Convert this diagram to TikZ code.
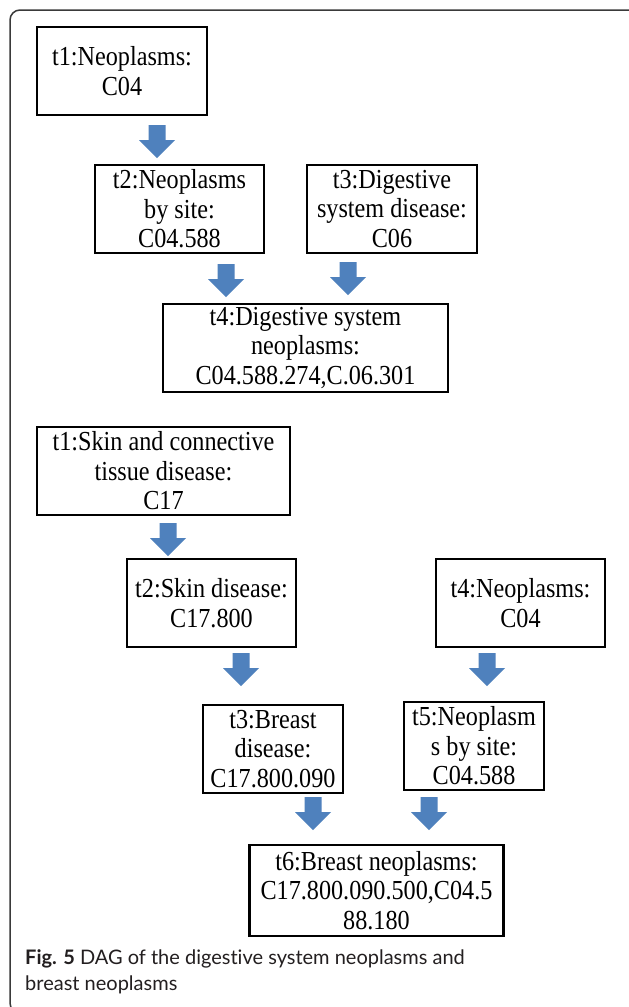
\documentclass[tikz,border=0pt]{standalone}
\usepackage{fontspec}
\setmainfont{Liberation Serif}
\newfontfamily\boxfont[FakeStretch=0.88]{Liberation Serif}
\newfontfamily\capfont[Ligatures={NoCommon}]{Lato}
\definecolor{arrowblue}{HTML}{4F81BD}
\definecolor{frameline}{HTML}{3A3A3A}
\definecolor{captext}{HTML}{231F20}
\begin{document}
\begin{tikzpicture}[x=1pt,y=-1pt,
  box/.style={draw=black, line width=2.6pt, rectangle, inner sep=0pt, align=center,
    font=\boxfont\fontsize{27.5}{29.5}\selectfont},
  barrow/.pic={\fill[arrowblue] (-8.5,0) -- (8.5,0) -- (8.5,15) -- (18,15) -- (0,33) -- (-18,15) -- (-8.5,15) -- cycle;}
  ]
\useasboundingbox (0,0) rectangle (629,1007);
\fill[white] (0,0) rectangle (629,1007);
\draw[line width=1.5pt, rounded corners=10pt, draw=frameline] (10,10) rectangle (645,1013);

% first DAG
\node[box, minimum width=170pt, minimum height=88pt] (a1) at (122,71) {t1:Neoplasms:\\C04};
\node[box, minimum width=169pt, minimum height=88pt] (a2) at (179.5,209) {t2:Neoplasms\\by site:\\C04.588};
\node[box, minimum width=170pt, minimum height=88pt] (a3) at (392,209) {t3:Digestive\\system disease:\\C06};
\node[box, minimum width=285pt, minimum height=88pt] (a4) at (305.5,348) {t4:Digestive system\\neoplasms:\\C04.588.274,C.06.301};

\pic at (157,125) {barrow};
\pic at (226,264) {barrow};
\pic at (348,262) {barrow};

% second DAG
\node[box, minimum width=253pt, minimum height=88pt] (b1) at (163.5,471) {t1:Skin and connective\\tissue disease:\\C17};
\node[box, minimum width=169pt, minimum height=88pt] (b2) at (211.5,603) {t2:Skin disease:\\C17.800};
\node[box, minimum width=169pt, minimum height=88pt] (b4) at (520.5,603) {t4:Neoplasms:\\C04};
\node[box, minimum width=140pt, minimum height=88pt] (b3) at (273,749) {t3:Breast\\disease:\\C17.800.090};
\node[box, minimum width=140pt, minimum height=88pt] (b5) at (474,746) {t5:Neoplasm\\s by site:\\C04.588};
\node[box, minimum width=254pt, minimum height=91pt] (b6) at (376.5,890.5) {t6:Breast neoplasms:\\C17.800.090.500,C04.5\\88.180};

\pic at (168,523) {barrow};
\pic at (241,653) {barrow};
\pic at (487,653) {barrow};
\pic at (313,797) {barrow};
\pic at (429,797) {barrow};

% caption
\node[anchor=base west, inner sep=0pt, align=left, text=captext,
  font=\capfont\fontsize{20}{26}\selectfont] (cap) at (25,990)
  {\textbf{Fig. 5} DAG of the digestive system neoplasms and\\breast neoplasms};
\end{tikzpicture}
\end{document}
